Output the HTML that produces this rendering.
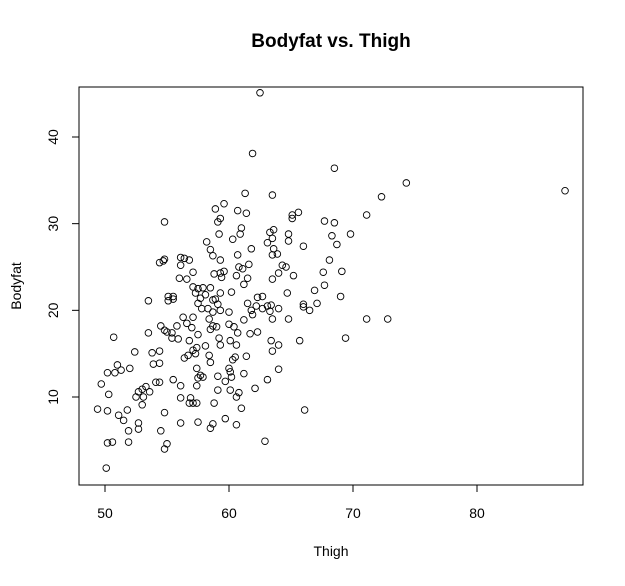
<!DOCTYPE html>
<html><head><meta charset="utf-8"><style>
body{margin:0;background:#fff}
svg text{font-family:"Liberation Sans",Arial,sans-serif}
</style></head><body>
<svg id="chart" width="625" height="581" xmlns="http://www.w3.org/2000/svg">
<rect width="625" height="581" fill="#fff"/>
<text x="331" y="47" font-size="19" font-weight="bold" text-anchor="middle">Bodyfat vs. Thigh</text>
<rect x="79" y="87" width="504" height="398" fill="none" stroke="#000"/>
<text x="331" y="556" font-size="14" text-anchor="middle">Thigh</text>
<text x="0" y="0" font-size="14" text-anchor="middle" transform="translate(21,286) rotate(-90)">Bodyfat</text>
<g id="axes"></g>
<g id="points"></g>
</svg>
<script>
const thigh = [58.2,58.5,58.7,54.4,54.7,54.8,56.1,56.4,56.8,56.1,57.1,56.0,56.6,58.8,57.1,57.5,57.9,58.5,57.3,58.1,57.7,58.7,57.5,57.8,58.3,58.7,53.5,55.1,55.5,55.1,55.5,56.3,56.6,57.1,58.4,58.7,58.5,54.5,54.8,55.0,55.4,55.4,55.9,55.8,57.0,57.5,56.8,58.1,50.7,53.5,52.4,53.8,54.4,53.9,54.4,56.4,56.7,57.1,57.4,57.3,58.4,58.5,57.4,57.7,57.9,57.5,51.0,51.3,52.0,50.2,50.8,49.7,50.3,54.1,54.4,55.5,56.1,57.4,52.7,53.0,53.3,53.6,52.5,53.1,53.0,56.1,56.9,56.8,57.1,57.4,58.8,49.4,50.2,51.1,51.5,51.8,54.8,52.7,52.7,51.9,54.5,56.1,57.5,58.5,58.7,50.2,50.6,51.9,55.0,54.8,50.1,
62.5,61.9,61.3,63.5,58.9,59.6,60.7,61.4,54.8,59.3,59.1,61.0,59.2,60.9,60.3,63.3,63.6,63.5,63.1,59.3,60.7,61.8,63.6,63.5,63.9,59.3,59.6,59.4,60.8,61.1,61.6,60.6,61.5,64.0,63.5,
61.2,59.3,60.2,58.9,59.1,59.3,60.0,62.3,62.7,61.5,62.2,61.8,62.7,63.1,63.4,63.3,63.5,64.0,61.2,61.9,60.0,60.4,59.0,60.7,61.7,62.3,59.2,59.3,60.1,60.6,63.4,63.5,64.0,60.5,60.3,61.4,60.0,60.1,59.7,59.1,60.2,61.2,63.1,64.0,59.1,60.1,60.8,60.6,62.1,61.0,59.7,60.6,62.9,
68.5,71.1,65.6,65.1,65.1,67.7,68.5,69.8,68.3,68.7,64.8,64.8,66.0,68.1,64.3,64.6,65.2,67.6,69.1,64.7,66.9,67.7,69.0,66.0,66.0,66.5,67.1,64.8,71.1,65.7,69.4,66.1,72.3,74.3,87.1,72.8];
const bodyfat = [27.9,27.0,26.3,25.5,25.7,25.9,26.1,26.0,25.8,25.2,24.4,23.7,23.6,24.2,22.7,22.5,22.6,22.6,22.0,21.8,21.4,21.2,20.8,20.2,20.2,19.8,21.1,21.6,21.6,21.1,21.3,19.2,18.5,19.2,19.0,18.2,17.8,18.2,17.7,17.5,17.4,16.8,16.7,18.2,18.0,17.2,16.5,15.9,16.9,17.4,15.2,15.1,15.3,13.8,13.9,14.5,14.8,15.4,15.7,15.0,14.8,14.0,13.3,12.5,12.3,12.2,13.7,13.1,13.3,12.8,12.8,11.5,10.3,11.7,11.7,12.0,11.3,11.3,10.6,10.9,11.2,10.6,10.0,10.0,9.1,9.9,9.9,9.3,9.3,9.3,9.3,8.6,8.4,7.9,7.3,8.5,8.2,7.0,6.3,6.1,6.1,7.0,7.1,6.4,6.9,4.7,4.8,4.8,4.6,4.0,1.8,
45.1,38.1,33.5,33.3,31.7,32.3,31.5,31.2,30.2,30.6,30.2,29.5,28.8,28.8,28.2,29.0,29.3,28.3,27.8,25.8,26.4,27.1,27.1,26.4,26.5,24.3,24.5,23.8,25.0,24.8,25.3,24.0,23.7,24.3,23.6,
23.0,22.0,22.1,21.3,20.7,20.0,19.8,21.5,21.6,20.8,20.5,20.0,20.2,20.5,20.6,19.9,19.0,20.2,18.9,19.5,18.4,18.1,18.1,17.4,17.3,17.5,16.8,16.0,16.5,16.0,16.5,15.3,16.0,14.6,14.3,14.7,13.3,12.9,11.8,12.4,12.3,12.7,12.0,13.2,10.8,10.8,10.5,10.0,11.0,8.7,7.5,6.8,4.9,
36.4,31.0,31.3,31.0,30.6,30.3,30.1,28.8,28.6,27.6,28.8,28.0,27.4,25.8,25.2,25.0,24.0,24.4,24.5,22.0,22.3,22.9,21.6,20.7,20.4,20.0,20.8,19.0,19.0,16.5,16.8,8.5,33.1,34.7,33.8,19.0];
const xTicks = [50,60,70,80];
const yTicks = [10,20,30,40];

const NS = "http://www.w3.org/2000/svg";
function xs(v){return 105 + (v-50)*12.4;}
function ys(v){return 397 - (v-10)*8.667;}
function mk(tag, attrs, parent){const e=document.createElementNS(NS,tag);for(const k in attrs)e.setAttribute(k,attrs[k]);parent.appendChild(e);return e;}
const axes=document.getElementById('axes');
const xa=mk('line',{x1:xs(50),x2:xs(80),y1:485,y2:485,stroke:'#000'},axes);


xTicks.forEach(t=>{
  const l=mk('line',{x1:xs(t),x2:xs(t),y1:485,y2:492,stroke:'#000'},axes);
  
  
  const tx=mk('text',{x:xs(t),y:518,'font-size':14,'text-anchor':'middle'},axes);
  tx.textContent=t;
  
  
});
const ya=mk('line',{x1:79,x2:79,y1:ys(10),y2:ys(40),stroke:'#000'},axes);


yTicks.forEach(t=>{
  const l=mk('line',{x1:72,x2:79,y1:ys(t),y2:ys(t),stroke:'#000'},axes);
  
  
  const tx=mk('text',{x:0,y:0,'font-size':14,'text-anchor':'middle',transform:`translate(58,${ys(t)}) rotate(-90)`},axes);
  tx.textContent=t;
  
  
});
const pts=document.getElementById('points');
thigh.forEach((t,i)=>{
  const c=mk('circle',{cx:xs(t),cy:ys(bodyfat[i]),r:3.3,fill:'none',stroke:'#000','stroke-width':0.9},pts);
  
  
});
</script>
</body></html>
